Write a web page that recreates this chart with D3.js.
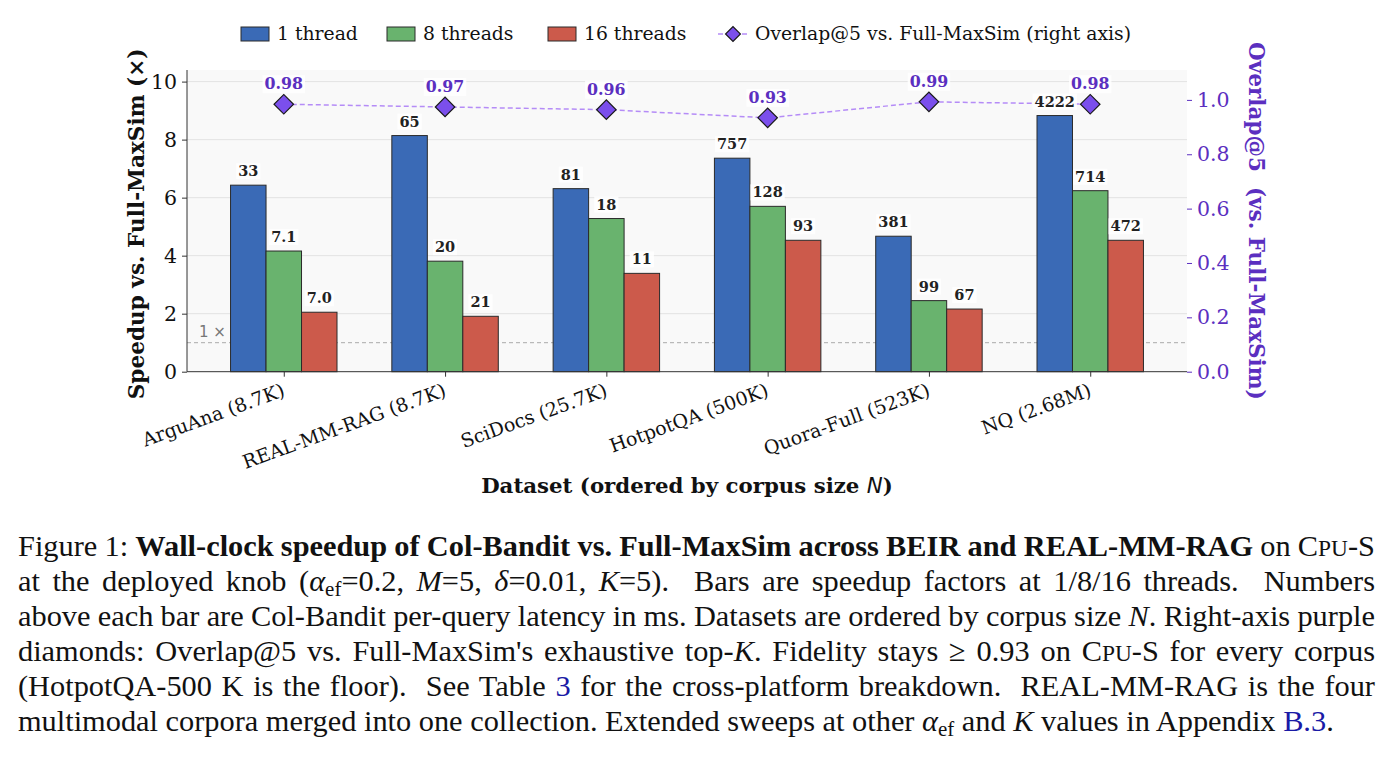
<!DOCTYPE html>
<html>
<head>
<meta charset="utf-8">
<script src="https://cdn.jsdelivr.net/npm/d3@7"></script>
<style>
body { margin: 0; background: #fff; }
svg { display: block; }
</style>
</head>
<body>
<svg id="chart" width="1393" height="761"></svg>
<script>
const datasets = ["ArguAna (8.7K)", "REAL-MM-RAG (8.7K)", "SciDocs (25.7K)", "HotpotQA (500K)", "Quora-Full (523K)", "NQ (2.68M)"]
const seriesNames = ["1 thread", "8 threads", "16 threads"]
const seriesColors = ["#3a6ab6", "#69b36e", "#cc5a4b"]
const speedup1 = [6.43, 8.14, 6.31, 7.36, 4.67, 8.83]
const speedup8 = [4.16, 3.81, 5.28, 5.70, 2.45, 6.24]
const speedup16 = [2.05, 1.91, 3.39, 4.53, 2.16, 4.53]
const latency1 = [33, 65, 81, 757, 381, 4222]
const latency8 = [7.1, 20, 18, 128, 99, 714]
const latency16 = [7.0, 21, 11, 93, 67, 472]
const overlap = [0.984, 0.974, 0.964, 0.934, 0.993, 0.984]
const leftTicks = [0, 2, 4, 6, 8, 10]
const rightTicks = [0, 0.2, 0.4, 0.6, 0.8, 1.0]

const purple = "#5b2fc0"
const serif = "'DejaVu Serif', serif"

const svg = d3.select('#chart')

const x = d3.scaleLinear().domain([-0.6, 5.6]).range([187, 1187])
const y = d3.scaleLinear().domain([0, 10.4]).range([371.7, 70])
const yR = d3.scaleLinear().domain([0, 1.11]).range([371.7, 70])
const barW = 0.22

// background + grid
svg.append('rect')
    .attr('x', x(-0.6)).attr('y', y(10.4))
    .attr('width', x(5.6) - x(-0.6)).attr('height', y(0) - y(10.4))
    .attr('fill', '#f9f9f9')

svg.append('g')
    .selectAll('line')
    .data(leftTicks.slice(1))
    .join('line')
    .attr('x1', x(-0.6)).attr('x2', x(5.6))
    .attr('y1', d => y(d)).attr('y2', d => y(d))
    .attr('stroke', '#e3e3e3').attr('stroke-width', 1)

// 1x reference
svg.append('line')
    .attr('x1', x(-0.6)).attr('x2', x(5.6))
    .attr('y1', y(1)).attr('y2', y(1))
    .attr('stroke', '#aaa').attr('stroke-width', 1)
    .attr('stroke-dasharray', '4,3')
svg.append('text')
    .attr('x', x(-0.6) + 12).attr('y', y(1) - 6)
    .attr('font-family', "'DejaVu Sans', sans-serif").attr('font-size', 15)
    .attr('fill', '#777')
    .text('1 ×')

// bars
const series = [speedup1, speedup8, speedup16]
const latencies = [latency1, latency8, latency16]
const barData = []
series.forEach(function(vals, k){
    vals.forEach(function(v, i){
        barData.push({i: i, k: k, v: v, lat: latencies[k][i]})
    })
})

svg.append('g')
    .selectAll('rect')
    .data(barData)
    .join('rect')
    .attr('x', d => x(d.i + (d.k - 1) * barW - barW / 2))
    .attr('width', x(barW) - x(0))
    .attr('y', d => y(d.v))
    .attr('height', d => y(0) - y(d.v))
    .attr('fill', d => seriesColors[d.k])
    .attr('stroke', '#2a2a2a').attr('stroke-width', 1)

// overlap line
const line = d3.line()
    .x((d, i) => x(i))
    .y(d => yR(d))
svg.append('path')
    .datum(overlap)
    .attr('d', line)
    .attr('fill', 'none')
    .attr('stroke', '#b58cf7').attr('stroke-width', 1.5)
    .attr('stroke-dasharray', '5,3')

svg.append('g')
    .selectAll('path')
    .data(overlap)
    .join('path')
    .attr('d', d3.symbol(d3.symbolSquare, 190))
    .attr('transform', (d, i) => `translate(${x(i)},${yR(d)}) rotate(45)`)
    .attr('fill', '#7b4fec')
    .attr('stroke', '#1a1a1a').attr('stroke-width', 1.2)

// labels with white boxes
function boxedLabel(g, tx, ty, str, color, size){
    const t = g.append('text')
        .attr('x', tx).attr('y', ty)
        .attr('text-anchor', 'middle')
        .attr('font-family', serif).attr('font-weight', 'bold').attr('font-size', size)
        .attr('fill', color)
        .text(str)
    const b = t.node().getBBox()
    g.insert('rect', () => t.node())
        .attr('x', b.x - 2).attr('y', b.y + 1)
        .attr('width', b.width + 4).attr('height', b.height - 1)
        .attr('fill', '#fff').attr('opacity', 0.85)
}

const labelG = svg.append('g')
barData.forEach(function(d){
    const s = d.lat < 10 ? d.lat.toFixed(1) : String(d.lat)
    boxedLabel(labelG, x(d.i + (d.k - 1) * barW), y(d.v) - 9, s, '#222', 14.5)
})
overlap.forEach(function(d, i){
    boxedLabel(labelG, x(i), yR(d) - 15, d3.format('.2f')(d), purple, 15.8)
})

// axes
const axL = svg.append('g')
    .attr('transform', `translate(${x(-0.6)},0)`)
    .call(d3.axisLeft(y).tickValues(leftTicks).tickSize(5).tickPadding(5))
axL.select('.domain').attr('stroke', '#333').attr('d', `M0,${y(10.4)}V${y(0)}`)
axL.selectAll('.tick line').attr('stroke', '#333')
axL.selectAll('text').attr('font-family', serif).attr('font-size', 20.5).attr('fill', '#111')

const axR = svg.append('g')
    .attr('transform', `translate(${x(5.6)},0)`)
    .call(d3.axisRight(yR).tickValues(rightTicks).tickSize(5).tickPadding(5).tickFormat(d3.format('.1f')))
axR.select('.domain').remove()
axR.selectAll('.tick line').attr('stroke', purple)
axR.selectAll('text').attr('font-family', serif).attr('font-size', 20.5).attr('fill', purple)

const axB = svg.append('g')
    .attr('transform', `translate(0,${y(0)})`)
    .call(d3.axisBottom(x).tickValues(d3.range(datasets.length)).tickSize(5).tickFormat(i => datasets[i]))
axB.select('.domain').attr('stroke', '#333').attr('d', `M${x(-0.6)},0H${x(5.6)}`)
axB.selectAll('.tick line').attr('stroke', '#333')
axB.selectAll('text')
    .attr('font-family', serif).attr('font-size', 19).attr('fill', '#111')
    .attr('text-anchor', 'end')
    .attr('x', 0).attr('y', 0).attr('dy', '0.72em')
    .attr('transform', 'translate(-3,11) rotate(-20)')

// axis titles
svg.append('text')
    .attr('transform', `translate(144,${(y(0) + y(10.4)) / 2 + 3}) rotate(-90)`)
    .attr('text-anchor', 'middle')
    .attr('font-family', serif).attr('font-weight', 'bold').attr('font-size', 21.6)
    .attr('fill', '#111')
    .text('Speedup vs. Full-MaxSim (×)')

svg.append('text')
    .attr('transform', `translate(1249,${(y(0) + y(10.4)) / 2}) rotate(90)`)
    .attr('text-anchor', 'middle')
    .attr('font-family', serif).attr('font-weight', 'bold').attr('font-size', 21.5)
    .attr('fill', purple)
    .style('white-space', 'pre')
    .text('Overlap@5  (vs. Full-MaxSim)')

const xt = svg.append('text')
    .attr('x', (x(-0.6) + x(5.6)) / 2).attr('y', 493)
    .attr('text-anchor', 'middle')
    .attr('font-family', serif).attr('font-weight', 'bold').attr('font-size', 21.3)
    .attr('fill', '#111')
xt.append('tspan').text('Dataset (ordered by corpus size ')
xt.append('tspan').attr('font-family', "'DejaVu Sans', sans-serif").attr('font-style', 'italic').attr('font-weight', 'normal').text('N')
xt.append('tspan').text(')')

// legend
const legend = svg.append('g').attr('font-family', serif).attr('font-size', 18.8).attr('fill', '#111')
const legX = [241, 387, 548]
seriesNames.forEach(function(name, k){
    legend.append('rect')
        .attr('x', legX[k]).attr('y', 27).attr('width', 28).attr('height', 14)
        .attr('fill', seriesColors[k]).attr('stroke', '#2a2a2a').attr('stroke-width', 1)
    legend.append('text').attr('x', legX[k] + 36).attr('y', 40).text(name)
})
legend.append('line')
    .attr('x1', 718).attr('x2', 748).attr('y1', 34).attr('y2', 34)
    .attr('stroke', '#b58cf7').attr('stroke-width', 1.5).attr('stroke-dasharray', '5,3')
legend.append('path')
    .attr('d', d3.symbol(d3.symbolSquare, 110))
    .attr('transform', 'translate(733,34) rotate(45)')
    .attr('fill', '#7b4fec').attr('stroke', '#1a1a1a').attr('stroke-width', 1.2)
legend.append('text').attr('x', 755).attr('y', 40).text('Overlap@5 vs. Full-MaxSim (right axis)')

// caption: pick a real serif face that is actually installed
const ctx = document.createElement('canvas').getContext('2d')
function probeWidth(font){
    ctx.font = '40px ' + font
    return ctx.measureText('Figure 1: Wall-clock speedup multimodal QAKgy').width
}
const sansWidths = ['monospace', 'sans-serif', '"Liberation Sans"', '"DejaVu Sans"', '"Noto Sans"', 'Roboto', '"Open Sans"', 'Lato', 'Inter']
    .map(probeWidth)
let capFont = "'DejaVu Serif'"
for (const f of ['"Liberation Serif"', 'Tinos', '"Nimbus Roman"', '"Times New Roman"', '"FreeSerif"', 'serif']) {
    const w = probeWidth(f + ', monospace')
    if (sansWidths.every(s => Math.abs(s - w) > 0.5)) { capFont = f; break }
}

const cap = svg.append('g')
    .style('font-family', capFont)
    .attr('font-size', 27.5).attr('fill', '#111')
const capLeft = 18, capRight = 1375
const capLines = [
    [["Figure 1: "], ["Wall-clock speedup of Col-Bandit vs. Full-MaxSim across BEIR and REAL-MM-RAG", "b"], [" on "], ["C"], ["PU", "sc"], ["-S"]],
    [["at the deployed knob ("], ["α", "i"], ["ef", "sub"], ["=0.2, ", "up"], ["M", "i"], ["=5, "], ["δ", "i"], ["=0.01, "], ["K", "i"], ["=5).  Bars are speedup factors at 1/8/16 threads.  Numbers"]],
    [["above each bar are Col-Bandit per-query latency in ms. Datasets are ordered by corpus size "], ["N", "i"], [". Right-axis purple"]],
    [["diamonds: Overlap@5 vs. Full-MaxSim's exhaustive top-"], ["K", "i"], [". Fidelity stays ≥ 0.93 on "], ["C"], ["PU", "sc"], ["-S for every corpus"]],
    [["(HotpotQA-500 K is the floor).  See Table "], ["3", "link"], [" for the cross-platform breakdown.  REAL-MM-RAG is the four"]],
    [["multimodal corpora merged into one collection. Extended sweeps at other "], ["α", "i"], ["ef", "sub"], [" and ", "up"], ["K", "i"], [" values in Appendix "], ["B.3", "link"], ["."]]
]
const capTexts = capLines.map(function(parts, li){
    const t = cap.append('text')
        .attr('x', capLeft).attr('y', 556 + li * 35)
        .style('white-space', 'pre')
    parts.forEach(function(p){
        const ts = t.append('tspan').text(p[0])
        if (p[1] === 'b') ts.attr('font-weight', 'bold')
        if (p[1] === 'i') ts.attr('font-style', 'italic')
        if (p[1] === 'sc') ts.attr('font-size', '0.77em')
        if (p[1] === 'link') ts.attr('fill', '#1a1aa6')
        if (p[1] === 'sub') ts.attr('font-size', '0.69em').attr('dy', 5)
        if (p[1] === 'up') ts.attr('dy', -5)
    })
    return t
})
// size so the last (unjustified) line is as long as in the original
const lastW = capTexts[capTexts.length - 1].node().getComputedTextLength()
const capSize = Math.max(21, Math.min(31.5, 27.5 * 1316 / lastW))
cap.attr('font-size', capSize)
capTexts.forEach(function(t, li){
    if (li < capTexts.length - 1) {
        const natural = t.node().getComputedTextLength()
        const spaces = t.text().split(' ').length - 1
        t.attr('word-spacing', (capRight - capLeft - natural) / spaces)
    }
})
</script>
</body>
</html>
